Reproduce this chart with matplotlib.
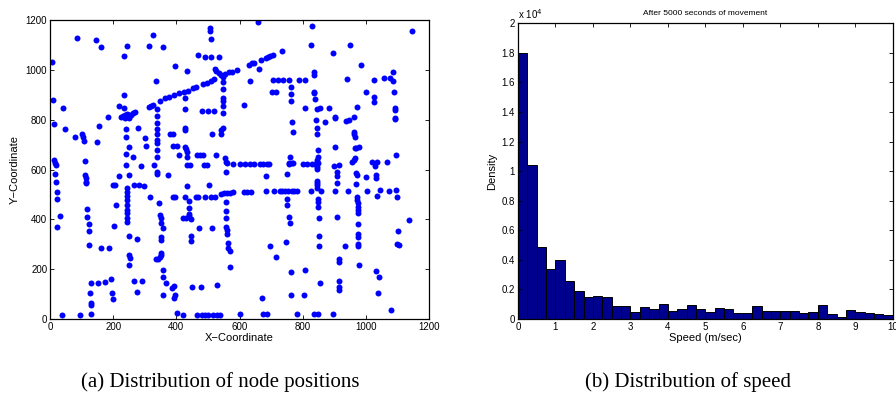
import numpy as np
import matplotlib
matplotlib.use("Agg")
import matplotlib.pyplot as plt
from matplotlib.ticker import FormatStrFormatter

plt.rcParams['font.family'] = ['Liberation Sans', 'DejaVu Sans']

# node positions, grouped by x band
nodes_0_100 = [(5, 1033), (8, 880), (13, 781), (40, 848), (49, 763), (78, 730), (87, 1129),
               (100, 742), (105, 730), (107, 716), (112, 636), (13, 638), (16, 625), (19, 617),
               (16, 581), (19, 549), (23, 511), (23, 483), (32, 413), (23, 371), (37, 15), (95, 15)]
nodes_100_220 = [(112, 578), (114, 565), (114, 551), (113, 545), (116, 440), (118, 411), (122, 380),
                 (122, 353), (123, 297), (146, 1120), (163, 1093), (148, 709), (155, 773), (183, 812),
                 (129, 143), (127, 106), (129, 66), (129, 56), (129, 19), (152, 146), (175, 150),
                 (194, 161), (195, 103), (198, 82), (160, 286), (188, 286), (198, 538), (205, 538),
                 (203, 375), (219, 575), (210, 458), (217, 854)]
nodes_220_320 = [(235, 1054), (243, 1094), (234, 899), (234, 846), (241, 761), (241, 732), (249, 689),
                 (241, 664), (241, 620), (264, 652), (278, 768), (287, 614), (302, 727), (304, 694),
                 (225, 812), (232, 815), (238, 818), (244, 822), (250, 818), (258, 818), (264, 825),
                 (270, 830), (238, 808), (250, 808),
                 (245, 525), (245, 511), (245, 494), (245, 478), (245, 458), (245, 438), (245, 425),
                 (245, 405), (245, 391), (249, 577),
                 (251, 333), (251, 257), (253, 244), (251, 217), (274, 321), (267, 538), (283, 538),
                 (299, 534), (266, 154), (292, 154), (275, 110), (313, 1097), (317, 491), (312, 852),
                 (320, 855)]
nodes_320_400 = [(325, 1140), (336, 957), (358, 1090), (329, 620), (325, 858),
                 (340, 842), (340, 815), (340, 785), (340, 763), (340, 743), (340, 719), (340, 708),
                 (340, 678), (340, 652), (340, 592), (340, 582),
                 (346, 467), (348, 417), (350, 404), (353, 387), (358, 364), (350, 330), (350, 317),
                 (352, 265), (352, 255), (348, 248), (342, 240), (335, 240), (357, 197), (359, 170),
                 (367, 143), (357, 96), (373, 577),
                 (348, 876), (365, 886), (378, 892), (394, 900),
                 (380, 743), (388, 743), (390, 696), (403, 696), (396, 1016), (385, 123), (392, 132),
                 (396, 96), (394, 83), (401, 23), (388, 491), (396, 491), (409, 659)]
nodes_400_500 = [(407, 906), (424, 910), (436, 915), (454, 926), (462, 933), (485, 943), (496, 949),
                 (420, 15), (433, 994), (429, 888), (429, 844), (427, 758), (429, 765), (426, 691),
                 (432, 681), (434, 671), (434, 649), (434, 620), (443, 620),
                 (422, 404), (432, 404), (441, 413), (445, 400), (441, 444), (441, 421), (441, 475),
                 (434, 534), (445, 333), (447, 314),
                 (449, 130), (478, 130), (471, 364), (470, 1060), (490, 1053), (464, 658), (475, 658),
                 (485, 658), (487, 620), (498, 620), (482, 835), (464, 15), (480, 15), (490, 15),
                 (426, 491), (462, 491), (469, 491), (490, 491), (504, 538)]
nodes_500_600 = [(507, 1167), (507, 1156), (510, 1123), (509, 1050), (534, 1050), (501, 835),
                 (519, 835), (513, 743), (527, 658),
                 (509, 954), (519, 962), (521, 1002), (527, 995), (536, 986), (540, 979), (547, 973),
                 (555, 982), (566, 990), (576, 993), (593, 1000),
                 (547, 953), (547, 924), (547, 886), (547, 877), (547, 853), (547, 826), (543, 759),
                 (547, 766), (543, 743),
                 (554, 645), (557, 632), (561, 625), (578, 621), (557, 591),
                 (514, 364), (529, 135), (501, 15), (517, 15), (530, 15), (538, 15),
                 (511, 491), (522, 491), (541, 500), (551, 504), (561, 507), (570, 507), (580, 510),
                 (557, 471), (557, 432), (557, 404), (557, 371), (559, 357), (561, 341), (563, 306),
                 (563, 284), (570, 274), (570, 210)]
nodes_600_700 = [(603, 621), (617, 621), (633, 621), (645, 621), (665, 621), (675, 621), (687, 621),
                 (694, 621), (614, 510), (623, 510), (636, 510), (684, 512),
                 (631, 1020), (638, 1026), (646, 1029), (663, 1005), (667, 1040), (684, 1046),
                 (691, 1052), (698, 1056), (705, 1060), (658, 1191), (633, 957), (614, 858),
                 (684, 575), (697, 294), (715, 248), (671, 86), (675, 19), (687, 19), (601, 19),
                 (702, 910), (717, 910), (705, 958), (709, 512)]
nodes_700_800 = [(733, 1074), (721, 958), (739, 958), (757, 958), (787, 958), (763, 930), (763, 903),
                 (763, 876), (765, 792), (768, 749),
                 (759, 652), (758, 625), (765, 625), (770, 625), (757, 622),
                 (733, 515), (744, 515), (754, 515), (765, 515), (772, 515), (781, 515), (728, 515),
                 (749, 582), (749, 480), (751, 458), (758, 408), (760, 384), (747, 308), (763, 189),
                 (763, 95), (783, 19), (802, 621), (815, 621)]
nodes_800_900 = [(808, 958), (828, 1176), (827, 1098), (836, 991), (836, 978), (836, 912), (836, 906),
                 (838, 882), (808, 848), (846, 842), (855, 848), (842, 799), (846, 766), (846, 743),
                 (882, 848), (872, 792), (895, 1066), (901, 812), (903, 808),
                 (828, 621), (839, 621), (846, 612), (846, 601), (846, 638),
                 (848, 678), (848, 651), (848, 625),
                 (846, 555), (846, 545), (846, 538), (846, 524), (857, 515), (827, 514),
                 (848, 483), (850, 471), (850, 451), (852, 404), (852, 333), (852, 294), (855, 144),
                 (836, 19), (850, 19), (897, 19), (804, 96), (806, 197),
                 (902, 689), (899, 615), (908, 591), (910, 575), (908, 546), (902, 514), (908, 411),
                 (914, 240), (914, 230), (914, 152), (914, 130), (914, 116)]
nodes_900_1000 = [(916, 618), (939, 963), (950, 1098), (937, 796), (947, 799), (964, 809), (971, 852),
                  (984, 1021), (962, 743), (965, 732), (964, 752), (965, 685), (979, 689), (969, 685),
                  (955, 632), (962, 638), (944, 514), (934, 294),
                  (968, 587), (972, 577), (968, 540), (971, 491), (973, 478), (975, 464), (975, 451),
                  (975, 437), (975, 424), (975, 380), (975, 340), (975, 330), (975, 303), (975, 294),
                  (979, 215), (967, 648)]
nodes_1000_up = [(1002, 910), (1026, 958), (1026, 892), (1026, 871), (1057, 966), (1076, 966),
                 (1085, 957), (1087, 991), (1089, 910), (1091, 848), (1092, 839), (1091, 805),
                 (1092, 801), (1145, 1156),
                 (1021, 632), (1036, 632), (1030, 615), (1067, 632), (1097, 658),
                 (1000, 571), (1004, 515), (1032, 578), (1032, 566), (1036, 494), (1046, 518),
                 (1072, 515), (1097, 518), (1098, 488),
                 (1137, 397), (1103, 352), (1100, 300), (1104, 297), (1032, 194), (1042, 170),
                 (1040, 103), (1079, 36)]

# speed histogram, bin width 0.25 m/s, heights in units of 10^4
speed_bin_edges = np.arange(0, 10.25, 0.25)
speed_density = [1.80, 1.04, 0.485, 0.34, 0.40, 0.255, 0.19, 0.15, 0.155, 0.148,
                 0.088, 0.087, 0.048, 0.078, 0.067, 0.10, 0.053, 0.07, 0.098, 0.065,
                 0.045, 0.075, 0.065, 0.043, 0.04, 0.088, 0.052, 0.055, 0.055, 0.055,
                 0.04, 0.045, 0.098, 0.035, 0.015, 0.06, 0.045, 0.042, 0.035, 0.028]

groups = [nodes_0_100, nodes_100_220, nodes_220_320, nodes_320_400, nodes_400_500,
          nodes_500_600, nodes_600_700, nodes_700_800, nodes_800_900, nodes_900_1000,
          nodes_1000_up]
pts = np.array([p for g in groups for p in g], dtype=float)

fig = plt.figure(figsize=(8.96, 3.96), dpi=100)


def matlab_axes(ax):
    ax.tick_params(direction='in', top=True, right=True, length=3, width=0.6,
                   labelsize=7, pad=2)
    for s in ax.spines.values():
        s.set_linewidth(0.9)


# (a) node positions
ax1 = fig.add_axes([0.0558, 0.1944, 0.423, 0.755])
ax1.plot(pts[:, 0], pts[:, 1], 'o', color='#0000ff', markersize=4.3, markeredgewidth=0)
ax1.set_xlim(0, 1200)
ax1.set_ylim(0, 1200)
ax1.set_xticks(range(0, 1201, 200))
ax1.set_yticks(range(0, 1201, 200))
matlab_axes(ax1)
ax1.set_xlabel('X\u2212Coordinate', fontsize=8, labelpad=1)
ax1.set_ylabel('Y\u2212Coordinate', fontsize=8, labelpad=4)

# (b) speed distribution
ax2 = fig.add_axes([0.578, 0.1944, 0.4185, 0.747])
ax2.bar(speed_bin_edges[:-1], speed_density, width=0.25, align='edge',
        color='#00008f', edgecolor='black', linewidth=0.7)
ax2.set_xlim(0, 10)
ax2.set_ylim(0, 2)
ax2.set_xticks(range(0, 11))
ax2.set_yticks(np.arange(0, 2.01, 0.2))
ax2.yaxis.set_major_formatter(FormatStrFormatter('%g'))
matlab_axes(ax2)
ax2.set_xlabel('Speed (m/sec)', fontsize=8, labelpad=1)
ax2.set_ylabel('Density', fontsize=8, labelpad=3)
ax2.set_title('After 5000 seconds of movement', fontsize=6, pad=6)
ax2.text(0.0, 1.008, 'x 10$^4$', transform=ax2.transAxes, fontsize=7,
         ha='left', va='bottom')

# captions
fig.text(0.246, 0.036, '(a) Distribution of node positions', ha='center', va='center',
         fontsize=15, family='Liberation Serif')
fig.text(0.768, 0.036, '(b) Distribution of speed', ha='center', va='center',
         fontsize=15, family='Liberation Serif')

fig.savefig('out.png', dpi=100)
